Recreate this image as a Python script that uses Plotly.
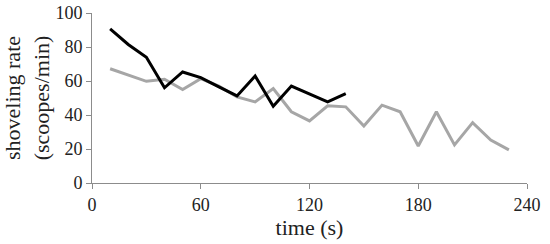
import plotly.graph_objects as go

# time points (s)
time_gray = [10, 20, 30, 40, 50, 60, 70, 80, 90, 100, 110, 120,
             130, 140, 150, 160, 170, 180, 190, 200, 210, 220, 230]
rate_gray = [67.2, 63.7, 59.8, 61, 55, 61.4, 57, 50.6, 47.7, 55.6, 41.9, 36.5,
             45.4, 44.8, 33.5, 45.8, 41.9, 21.8, 41.9, 22.4, 35.5, 25.3, 19.5]

time_black = [10, 20, 30, 40, 50, 60, 70, 80, 90, 100, 110, 120, 130, 140]
rate_black = [90.6, 81.5, 74, 56, 65.3, 62, 56.5, 51.2, 63, 45.2, 57, 52.2, 47.7, 52.6]

x_ticks = [0, 60, 120, 180, 240]
y_ticks = [0, 20, 40, 60, 80, 100]

fig = go.Figure()
fig.add_trace(go.Scatter(x=time_gray, y=rate_gray, mode="lines",
                         line=dict(color="#a6a6a6", width=3)))
fig.add_trace(go.Scatter(x=time_black, y=rate_black, mode="lines",
                         line=dict(color="black", width=3)))

axis_font = dict(family="Liberation Serif", size=18, color="#222")
fig.update_layout(
    width=550, height=244,
    margin=dict(l=92, r=23, t=13, b=61),
    plot_bgcolor="white", paper_bgcolor="white",
    showlegend=False,
    font=axis_font,
)
fig.update_xaxes(range=[0, 240], tickvals=x_ticks, showgrid=False, zeroline=False,
                 showline=True, linecolor="#8c8c8c", linewidth=1,
                 ticks="outside", ticklen=5, tickcolor="#8c8c8c", automargin=False,
                 ticklabeloverflow="allow",
                 title=dict(text="time (s)", standoff=0), tickfont=axis_font)
fig.update_yaxes(range=[0, 100], tickvals=y_ticks, showgrid=False, zeroline=False,
                 showline=True, linecolor="#8c8c8c", linewidth=1,
                 ticks="outside", ticklen=5, tickcolor="#8c8c8c", automargin=False,
                 ticklabeloverflow="allow",
                 title=dict(text="shoveling rate<br>(scoopes/min)", standoff=4),
                 tickfont=axis_font)

# drop the default body margin so the figure sits at the page corner
fig.write_html("out.html", config={"displayModeBar": False},
               post_script="document.body.style.margin='0';")
